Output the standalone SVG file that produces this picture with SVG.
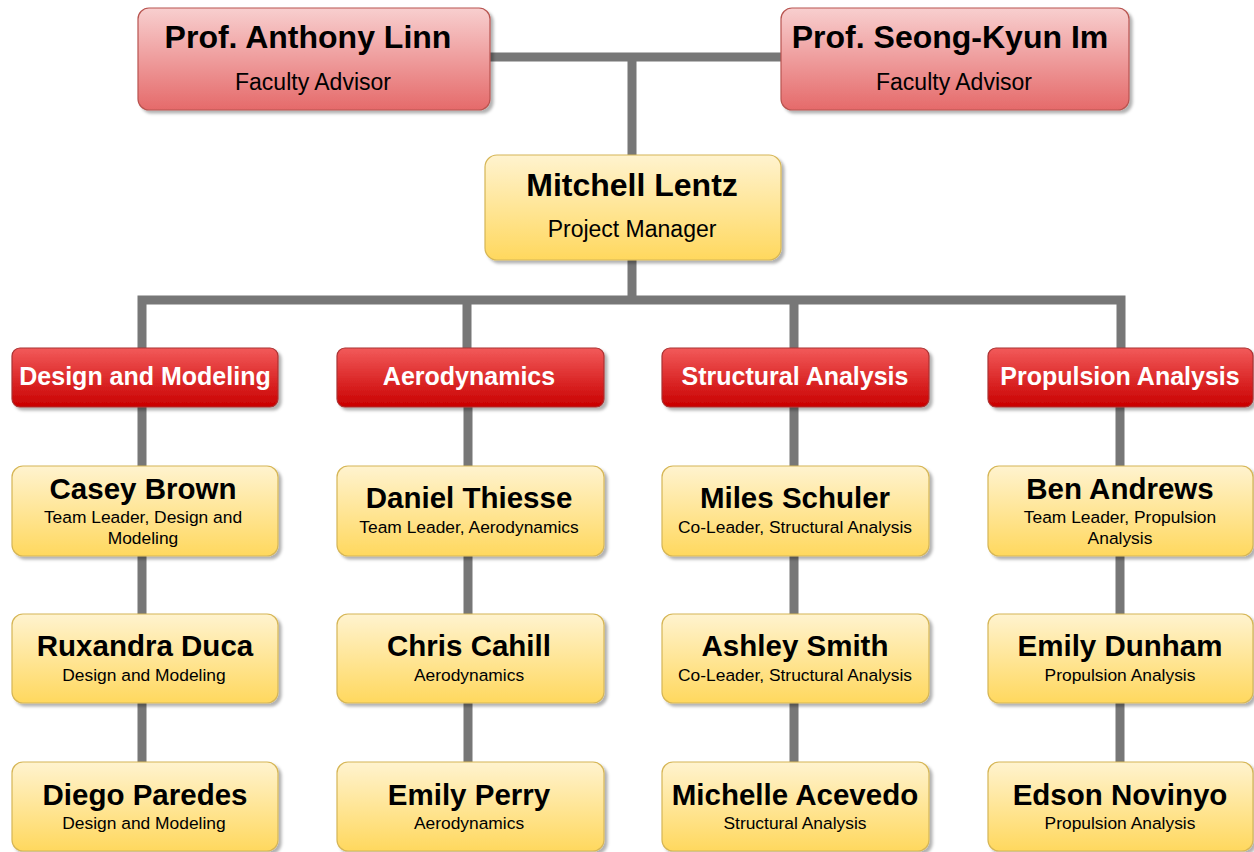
<svg xmlns="http://www.w3.org/2000/svg" width="1254" height="852" viewBox="0 0 1254 852">
<defs>
<linearGradient id="gFac" x1="0" y1="0" x2="0" y2="1"><stop offset="0" stop-color="#f8cfcf"/><stop offset="1" stop-color="#e56a6a"/></linearGradient>
<linearGradient id="gHead" x1="0" y1="0" x2="0" y2="1"><stop offset="0" stop-color="#f25a5a"/><stop offset="1" stop-color="#c90000"/></linearGradient>
<linearGradient id="gYel" x1="0" y1="0" x2="0" y2="1"><stop offset="0" stop-color="#fff3cf"/><stop offset="1" stop-color="#ffd85e"/></linearGradient>
<filter id="sh" x="-10%" y="-10%" width="130%" height="140%"><feDropShadow dx="3" dy="3" stdDeviation="1.5" flood-color="#000" flood-opacity="0.3"/></filter>
</defs>
<style>
.fac{fill:url(#gFac);stroke:#b85450;stroke-width:1.2;filter:url(#sh)}
.head{fill:url(#gHead);stroke:#a33;stroke-width:1.2;filter:url(#sh)}
.yel{fill:url(#gYel);stroke:#d6b656;stroke-width:1.2;filter:url(#sh)}
text{font-family:"Liberation Sans",Arial,sans-serif;text-anchor:middle;fill:#000}
.big{font-size:32px;font-weight:bold}
.mid{font-size:23px}
.ht{font-size:25px;font-weight:bold;fill:#fff}
.nm{font-size:29.5px;font-weight:bold}
.sb{font-size:17.4px}
.c{fill:none;stroke:#777;stroke-width:9}
</style>
<g id="connectors">
<path class="c" d="M490 57H781M632 57V155"/>
<path class="c" d="M632 260V300M142 348V300H1121V348M467 300V348M794 300V348"/>
<path class="c" d="M142 407V466M142 556V614M142 703V762"/>
<path class="c" d="M468 407V466M468 556V614M468 703V762"/>
<path class="c" d="M794 407V466M794 556V614M794 703V762"/>
<path class="c" d="M1120 407V466M1120 556V614M1120 703V762"/>
</g>
<g id="linn"><rect class="fac" x="138" y="8" width="352" height="102" rx="11"/><text class="big" x="308" y="48">Prof. Anthony Linn</text><text class="mid" x="313" y="90">Faculty Advisor</text></g>
<g id="im"><rect class="fac" x="781" y="8" width="348" height="102" rx="11"/><text class="big" x="950" y="48">Prof. Seong-Kyun Im</text><text class="mid" x="954" y="90">Faculty Advisor</text></g>
<g id="lentz"><rect class="yel" x="485" y="155" width="296" height="105" rx="12"/><text class="big" x="632" y="196">Mitchell Lentz</text><text class="mid" x="632" y="237">Project Manager</text></g>
<g id="h1"><rect class="head" x="12" y="348" width="266" height="59" rx="8"/><text class="ht" x="145" y="385">Design and Modeling</text></g>
<g id="h2"><rect class="head" x="337" y="348" width="267" height="59" rx="8"/><text class="ht" x="469" y="385">Aerodynamics</text></g>
<g id="h3"><rect class="head" x="662" y="348" width="267" height="59" rx="8"/><text class="ht" x="795" y="385">Structural Analysis</text></g>
<g id="h4"><rect class="head" x="988" y="348" width="265" height="59" rx="8"/><text class="ht" x="1120" y="385">Propulsion Analysis</text></g>
<g id="brown"><rect class="yel" x="12" y="466" width="266" height="90" rx="11"/><text class="nm" x="143" y="499">Casey Brown</text><text class="sb" x="143" y="523">Team Leader, Design and</text><text class="sb" x="143" y="544">Modeling</text></g>
<g id="duca"><rect class="yel" x="12" y="614" width="266" height="89" rx="11"/><text class="nm" x="145" y="656">Ruxandra Duca</text><text class="sb" x="144" y="681">Design and Modeling</text></g>
<g id="paredes"><rect class="yel" x="12" y="762" width="266" height="89" rx="11"/><text class="nm" x="145" y="805">Diego Paredes</text><text class="sb" x="144" y="829">Design and Modeling</text></g>
<g id="thiesse"><rect class="yel" x="337" y="466" width="267" height="90" rx="11"/><text class="nm" x="469" y="508">Daniel Thiesse</text><text class="sb" x="469" y="533">Team Leader, Aerodynamics</text></g>
<g id="cahill"><rect class="yel" x="337" y="614" width="267" height="89" rx="11"/><text class="nm" x="469" y="656">Chris Cahill</text><text class="sb" x="469" y="681">Aerodynamics</text></g>
<g id="perry"><rect class="yel" x="337" y="762" width="267" height="89" rx="11"/><text class="nm" x="469" y="805">Emily Perry</text><text class="sb" x="469" y="829">Aerodynamics</text></g>
<g id="schuler"><rect class="yel" x="662" y="466" width="267" height="90" rx="11"/><text class="nm" x="795" y="508">Miles Schuler</text><text class="sb" x="795" y="533">Co-Leader, Structural Analysis</text></g>
<g id="smith"><rect class="yel" x="662" y="614" width="267" height="89" rx="11"/><text class="nm" x="795" y="656">Ashley Smith</text><text class="sb" x="795" y="681">Co-Leader, Structural Analysis</text></g>
<g id="acevedo"><rect class="yel" x="662" y="762" width="267" height="89" rx="11"/><text class="nm" x="795" y="805">Michelle Acevedo</text><text class="sb" x="795" y="829">Structural Analysis</text></g>
<g id="andrews"><rect class="yel" x="988" y="466" width="265" height="90" rx="11"/><text class="nm" x="1120" y="499">Ben Andrews</text><text class="sb" x="1120" y="523">Team Leader, Propulsion</text><text class="sb" x="1120" y="544">Analysis</text></g>
<g id="dunham"><rect class="yel" x="988" y="614" width="265" height="89" rx="11"/><text class="nm" x="1120" y="656">Emily Dunham</text><text class="sb" x="1120" y="681">Propulsion Analysis</text></g>
<g id="novinyo"><rect class="yel" x="988" y="762" width="265" height="89" rx="11"/><text class="nm" x="1120" y="805">Edson Novinyo</text><text class="sb" x="1120" y="829">Propulsion Analysis</text></g>
</svg>
